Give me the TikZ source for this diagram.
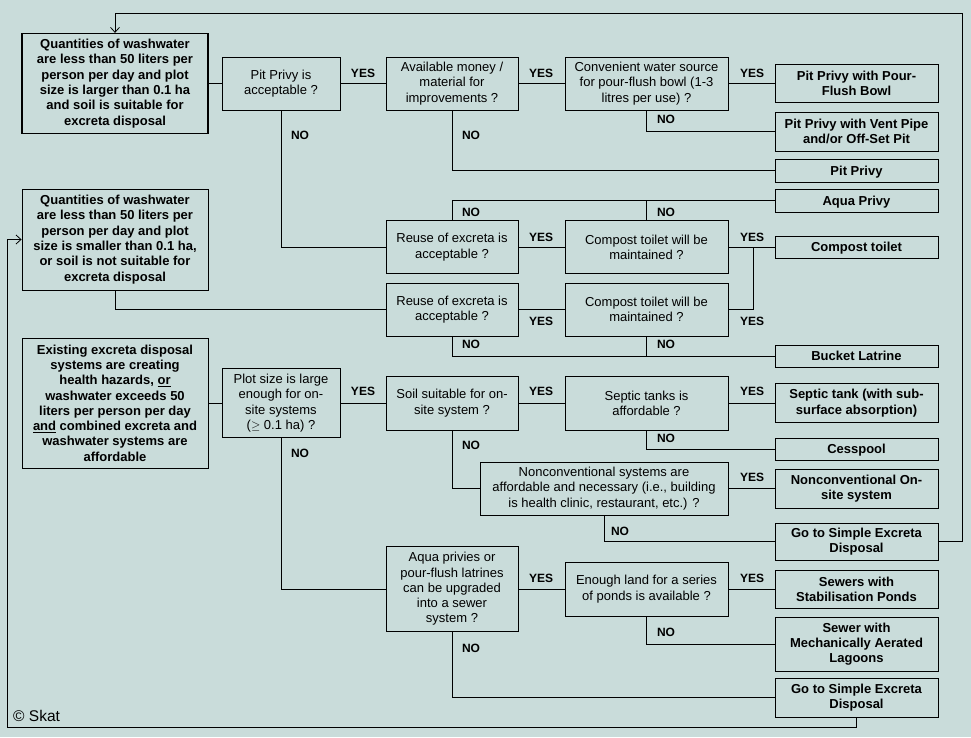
\documentclass[tikz,border=0pt]{standalone}
\usepackage{fontspec}
\setmainfont{Liberation Sans}
\usetikzlibrary{arrows.meta}
\definecolor{skatbg}{RGB}{201,220,218}
\tikzset{
  every node/.style={inner sep=2pt},
  boxbase/.style={draw, line width=0.8pt, align=center, font=\fontsize{13}{15.3}\selectfont},
  start/.style={boxbase, font=\fontsize{13}{15.3}\selectfont\bfseries},
  ask/.style={boxbase},
  outcome/.style={boxbase, font=\fontsize{13}{15.3}\selectfont\bfseries},
  oneline/.style={text height=9.4pt, text depth=0pt},
  wh/.style 2 args={minimum width=#1pt, minimum height=#2pt},
  lbl/.style={font=\fontsize{12}{14}\selectfont\bfseries},
  wire/.style={line width=0.8pt},
  feedback/.style={wire, -{Straight Barb[length=5pt,width=9pt]}},
}
\begin{document}
\begin{tikzpicture}[x=1pt,y=-1pt]
\fill[skatbg] (0,0) rectangle (971,737);
% starting situations
\node[start, wh={186}{100}, line width=1.2pt] (cond1) at (115,83.5) {Quantities of washwater\\are less than 50 liters per\\person per day and plot\\size is larger than 0.1 ha\\and soil is suitable for\\excreta disposal};
\node[start, wh={186}{101}] (cond2) at (115,239.5) {Quantities of washwater\\are less than 50 liters per\\person per day and plot\\size is smaller  than 0.1 ha,\\or soil is not suitable for\\excreta disposal};
\node[start, wh={186}{130}] (cond3) at (115,403) {Existing excreta disposal\\systems are creating\\health hazards, \underline{or}\\washwater exceeds 50\\liters per person per day\\\underline{and} combined excreta and\\washwater systems are\\affordable};
% questions
\node[ask, wh={118}{53}] (pitok) at (281,83.5) {Pit Privy is\\acceptable ?};
\node[ask, wh={118}{69}] (plotok) at (281,403) {Plot size is large\\enough for on-\\site systems\\($\geq$ 0.1 ha) ?};
\node[ask, wh={132}{53}] (money) at (452,83.5) {Available money /\\material for\\improvements ?};
\node[ask, wh={132}{53}] (reuseA) at (452,247) {Reuse of excreta is\\acceptable ?};
\node[ask, wh={132}{53}] (reuseB) at (452,309.5) {Reuse of excreta is\\acceptable ?};
\node[ask, wh={132}{54}] (soilok) at (452,403) {Soil suitable for on-\\site system ?};
\node[ask, wh={132}{85}] (upgrade) at (452,589) {Aqua privies or\\pour-flush latrines\\can be upgraded\\into a sewer\\system ?};
\node[ask, wh={248}{53}] (noncon) at (604,488.5) {Nonconventional systems are\\affordable and necessary (i.e., building\\is health clinic, restaurant, etc.) ?};
\node[ask, wh={163}{53}] (water) at (646.5,83.5) {Convenient water source\\for pour-flush bowl (1-3\\litres per use) ?};
\node[ask, wh={163}{53}] (compA) at (646.5,247) {Compost toilet will be\\maintained ?};
\node[ask, wh={163}{53}] (compB) at (646.5,309.5) {Compost toilet will be\\maintained ?};
\node[ask, wh={163}{54}] (septok) at (646.5,403) {Septic tanks is\\affordable ?};
\node[ask, wh={163}{54}] (land) at (646.5,589) {Enough land for a series\\of ponds is available ?};
% outcomes
\node[outcome, wh={163}{38}] (pourflush) at (856.5,83.5) {Pit Privy with Pour-\\Flush Bowl};
\node[outcome, wh={163}{39}] (ventpipe) at (856.5,131.5) {Pit Privy with Vent Pipe\\and/or Off-Set Pit};
\node[outcome, oneline, wh={163}{23}] (pitprivy) at (856.5,170.5) {Pit Privy};
\node[outcome, oneline, wh={163}{23}] (aquaprivy) at (856.5,200.5) {Aqua Privy};
\node[outcome, oneline, wh={163}{22}] (compost) at (856.5,247) {Compost toilet};
\node[outcome, oneline, wh={163}{22}] (bucket) at (856.5,356) {Bucket Latrine};
\node[outcome, wh={163}{39}] (septank) at (856.5,403) {Septic tank (with sub-\\surface absorption)};
\node[outcome, oneline, wh={163}{22}] (cesspool) at (856.5,449) {Cesspool};
\node[outcome, wh={163}{39}] (nonsite) at (856.5,488.5) {Nonconventional On-\\site system};
\node[outcome, wh={163}{37}] (simpleA) at (856.5,541.5) {Go to Simple Excreta\\Disposal};
\node[outcome, wh={163}{38}] (ponds) at (856.5,589) {Sewers with\\Stabilisation Ponds};
\node[outcome, wh={163}{54}] (lagoons) at (856.5,644) {Sewer with\\Mechanically Aerated\\Lagoons};
\node[outcome, wh={163}{39}] (simpleB) at (856.5,697.5) {Go to Simple Excreta\\Disposal};
% connectors
\draw[wire] (cond1) -- (pitok);
\draw[wire] (pitok) -- (money);
\draw[wire] (money) -- (water);
\draw[wire] (water) -- (pourflush);
\draw[wire] (water.south) |- (ventpipe.west);
\draw[wire] (money.south) |- (pitprivy.west);
\draw[wire] (pitok.south) |- (reuseA.west);
\draw[wire] (reuseA) -- (compA);
\draw[wire] (compA) -- (compost);
\draw[wire] (reuseA.north) |- (aquaprivy.west);
\draw[wire] (compA.north) -- (compA.north |- aquaprivy.west);
\draw[wire] (cond2.south) |- (reuseB.west);
\draw[wire] (reuseB) -- (compB);
\coordinate (yesjoin) at (753,247);
\draw[wire] (compB.east) -| (yesjoin);
\draw[wire] (reuseB.south) |- (bucket.west);
\draw[wire] (compB.south) -- (compB.south |- bucket.west);
\draw[wire] (cond3) -- (plotok);
\draw[wire] (plotok) -- (soilok);
\draw[wire] (soilok) -- (septok);
\draw[wire] (septok) -- (septank);
\draw[wire] (septok.south) |- (cesspool.west);
\draw[wire] (soilok.south) |- (noncon.west);
\draw[wire] (noncon) -- (nonsite);
\draw[wire] (noncon.south) |- (simpleA.west);
\draw[wire] (plotok.south) |- (upgrade.west);
\draw[wire] (upgrade) -- (land);
\draw[wire] (land) -- (ponds);
\draw[wire] (land.south) |- (lagoons.west);
\draw[wire] (upgrade.south) |- (simpleB.west);
% back to the start
\coordinate (topturn) at (962,13);
\coordinate (botturn) at (7,727);
\draw[feedback] (simpleA.east) -| (topturn) -| (cond1.north);
\draw[feedback] (simpleB.south) |- (botturn) |- (cond2.west);
% answers
\node[lbl] (yes1) at (363,73) {YES};
\node[lbl] (yes2) at (541,73) {YES};
\node[lbl] (yes3) at (752,73) {YES};
\node[lbl] (yes4) at (541,237) {YES};
\node[lbl] (yes5) at (752,237) {YES};
\node[lbl] (yes6) at (541,321) {YES};
\node[lbl] (yes7) at (752,321) {YES};
\node[lbl] (yes8) at (363,391) {YES};
\node[lbl] (yes9) at (541,391) {YES};
\node[lbl] (yes10) at (752,391) {YES};
\node[lbl] (yes11) at (752,477) {YES};
\node[lbl] (yes12) at (541,578) {YES};
\node[lbl] (yes13) at (752,578) {YES};
\node[lbl] (no1) at (300,135) {NO};
\node[lbl] (no2) at (471,135) {NO};
\node[lbl] (no3) at (666,119) {NO};
\node[lbl] (no4) at (471,212) {NO};
\node[lbl] (no5) at (666,212) {NO};
\node[lbl] (no6) at (471,344) {NO};
\node[lbl] (no7) at (666,344) {NO};
\node[lbl] (no8) at (666,438) {NO};
\node[lbl] (no9) at (471,445) {NO};
\node[lbl] (no10) at (300,453) {NO};
\node[lbl] (no11) at (620,531) {NO};
\node[lbl] (no12) at (666,632) {NO};
\node[lbl] (no13) at (471,648) {NO};
\node[font=\fontsize{15.5}{18}\selectfont, anchor=west] (skat) at (11,716) {© Skat};
\end{tikzpicture}
\end{document}
